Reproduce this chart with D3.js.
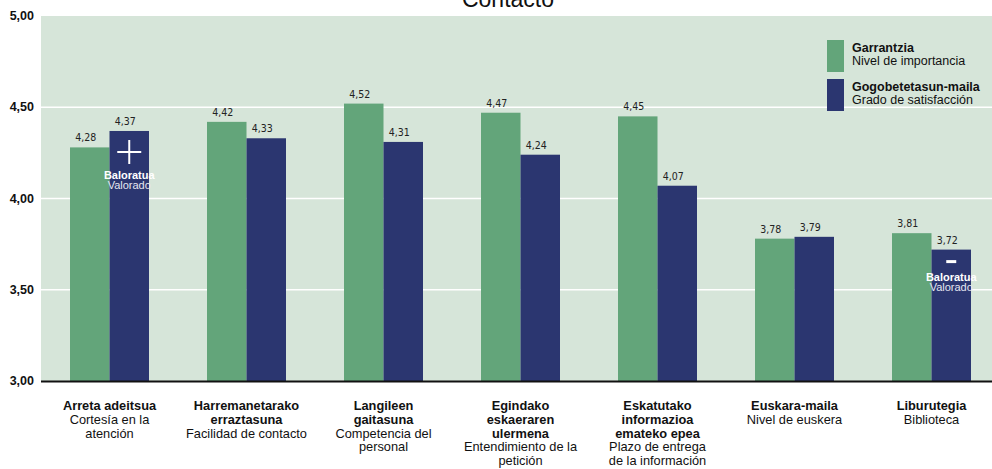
<!DOCTYPE html>
<html>
<head>
<meta charset="utf-8">
<script src="https://cdn.jsdelivr.net/npm/d3@7"></script>
<style>
  body { margin: 0; background: #fff; }
  svg { display: block; font-family: "Liberation Sans", Arial, sans-serif; }
</style>
</head>
<body>
<div id="chart"></div>
<script>
  // categories: basque (bold) + spanish lines
  var catEu = [
    ['Arreta adeitsua'],
    ['Harremanetarako', 'erraztasuna'],
    ['Langileen', 'gaitasuna'],
    ['Egindako', 'eskaeraren', 'ulermena'],
    ['Eskatutako', 'informazioa', 'emateko epea'],
    ['Euskara-maila'],
    ['Liburutegia']
  ];
  var catEs = [
    ['Cortesía en la', 'atención'],
    ['Facilidad de contacto'],
    ['Competencia del', 'personal'],
    ['Entendimiento de la', 'petición'],
    ['Plazo de entrega', 'de la información'],
    ['Nivel de euskera'],
    ['Biblioteca']
  ];
  var importance = [4.28, 4.42, 4.52, 4.47, 4.45, 3.78, 3.81];
  var satisfaction = [4.37, 4.33, 4.31, 4.24, 4.07, 3.79, 3.72];
  var yTicks = [3.0, 3.5, 4.0, 4.5, 5.0];
  var seriesEu = ['Garrantzia', 'Gogobetetasun-maila'];
  var seriesEs = ['Nivel de importancia', 'Grado de satisfacción'];
  // best / worst rated marks (category index, sign)
  var marks = [[0, '+'], [6, '-']];

  var W = 992, H = 469;
  var green = '#63a57a', blue = '#2b3670', bg = '#d6e5d9';
  var fmt = function(v){ return d3.format('.2f')(v).replace('.', ','); };

  var svg = d3.select('#chart').append('svg')
    .attr('width', W)
    .attr('height', H);

  var x = d3.scaleBand()
    .domain(d3.range(catEu.length))
    .range([41, 1000])
    .paddingInner(0)
    .paddingOuter(0);

  var x1 = d3.scaleBand()
    .domain([0, 1])
    .range([29, 108]);

  var y = d3.scaleLinear()
    .domain([3, 5])
    .range([381, 16]);

  // plot background
  svg.append('rect')
    .attr('x', 41)
    .attr('y', y(5))
    .attr('width', W - 41)
    .attr('height', y(3) - y(5))
    .attr('fill', bg);

  // title (clipped at top like the original)
  svg.append('text')
    .attr('x', 508)
    .attr('y', 7)
    .attr('text-anchor', 'middle')
    .attr('font-size', 23)
    .attr('fill', '#111')
    .text('Contacto');

  // grid lines
  svg.selectAll('.grid')
    .data(yTicks.slice(1, 4))
    .enter().append('line')
    .attr('x1', 41)
    .attr('x2', W)
    .attr('y1', function(d){ return y(d); })
    .attr('y2', function(d){ return y(d); })
    .attr('stroke', '#fff')
    .attr('stroke-width', 1.5);

  // y axis labels
  svg.selectAll('.ytick')
    .data(yTicks)
    .enter().append('text')
    .attr('x', 34)
    .attr('y', function(d){ return y(d) + 4; })
    .attr('text-anchor', 'end')
    .attr('font-size', 12.5)
    .attr('font-weight', 'bold')
    .attr('fill', '#111')
    .text(fmt);

  var series = [importance, satisfaction];
  var colors = [green, blue];

  series.forEach(function(values, s){
    svg.selectAll('.bar' + s)
      .data(values)
      .enter().append('rect')
      .attr('x', function(d, i){ return x(i) + x1(s); })
      .attr('y', function(d){ return y(d); })
      .attr('width', x1.bandwidth())
      .attr('height', function(d){ return y(3) - y(d); })
      .attr('fill', colors[s]);

    svg.selectAll('.val' + s)
      .data(values)
      .enter().append('text')
      .attr('x', function(d, i){ return x(i) + x1(s) + x1.bandwidth() / 2 - 4; })
      .attr('y', function(d){ return y(d) - 6; })
      .attr('text-anchor', 'middle')
      .attr('font-family', '"DejaVu Sans Condensed", "Liberation Sans Narrow", sans-serif')
      .attr('font-size', 10.5)
      .attr('fill', '#222')
      .text(fmt);
  });

  // axis base line
  svg.append('line')
    .attr('x1', 41)
    .attr('x2', W)
    .attr('y1', y(3) + 0.5)
    .attr('y2', y(3) + 0.5)
    .attr('stroke', '#111')
    .attr('stroke-width', 2);

  // category labels
  catEu.forEach(function(lines, i){
    var cx = x(i) + x.bandwidth() / 2;
    var t = svg.append('text')
      .attr('x', cx)
      .attr('y', 410)
      .attr('text-anchor', 'middle')
      .attr('font-size', 12.8)
      .attr('fill', '#111');
    var all = lines.map(function(l){ return [l, true]; })
      .concat(catEs[i].map(function(l){ return [l, false]; }));
    all.forEach(function(l, k){
      t.append('tspan')
        .attr('x', cx)
        .attr('dy', k === 0 ? 0 : 13.8)
        .attr('font-weight', l[1] ? 'bold' : 'normal')
        .text(l[0]);
    });
  });

  // +/- marks
  marks.forEach(function(m){
    var i = m[0];
    var cx = x(i) + x1(1) + x1.bandwidth() / 2;
    var top = y(satisfaction[i]);
    var g = svg.append('g');
    var cy;
    if(m[1] === '+'){
      cy = top + 21;
      g.append('line').attr('x1', cx - 12).attr('x2', cx + 12)
        .attr('y1', cy).attr('y2', cy)
        .attr('stroke', '#fff').attr('stroke-width', 2);
      g.append('line').attr('x1', cx).attr('x2', cx)
        .attr('y1', cy - 12).attr('y2', cy + 12)
        .attr('stroke', '#fff').attr('stroke-width', 2);
      cy = cy + 27;
    }else{
      cy = top + 12;
      g.append('line').attr('x1', cx - 5).attr('x2', cx + 5)
        .attr('y1', cy).attr('y2', cy)
        .attr('stroke', '#fff').attr('stroke-width', 3);
      cy = cy + 19;
    }
    g.append('text')
      .attr('x', cx).attr('y', cy)
      .attr('text-anchor', 'middle')
      .attr('font-size', 11)
      .attr('font-weight', 'bold')
      .attr('fill', '#fff')
      .text('Baloratua');
    g.append('text')
      .attr('x', cx).attr('y', cy + 10)
      .attr('text-anchor', 'middle')
      .attr('font-size', 11)
      .attr('fill', '#e4e6f0')
      .text('Valorado');
  });

  // legend
  var legend = svg.append('g');
  seriesEu.forEach(function(name, s){
    var ly = 40 + s * 39;
    legend.append('rect')
      .attr('x', 827)
      .attr('y', ly)
      .attr('width', 17)
      .attr('height', 32)
      .attr('fill', colors[s]);
    legend.append('text')
      .attr('x', 852)
      .attr('y', ly + 12)
      .attr('font-size', 12.5)
      .attr('font-weight', 'bold')
      .attr('fill', '#111')
      .text(name);
    legend.append('text')
      .attr('x', 852)
      .attr('y', ly + 25)
      .attr('font-size', 12.5)
      .attr('fill', '#111')
      .text(seriesEs[s]);
  });
</script>
</body>
</html>
